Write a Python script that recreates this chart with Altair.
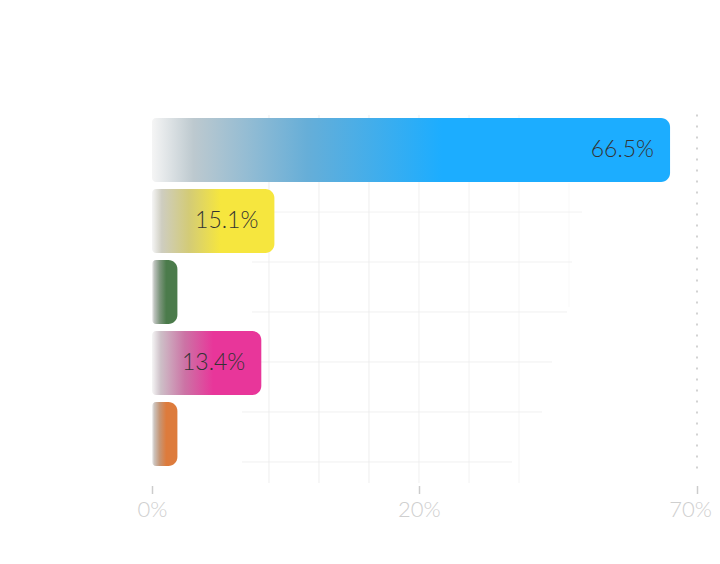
import altair as alt
import pandas as pd

# ---- data ----
names = ["Category A", "Category B", "Category C", "Category D", "Category E"]
values = [66.5, 15.1, 2.5, 13.4, 2.5]
colors = ["#1CADFF", "#F6E63E", "#4B7B4B", "#E8369A", "#DD7B3C"]
axis_ticks = [0, 20, 70]          # labels shown on the bottom axis
label_min = 10                    # bars below this value carry no label

# decorative background lattice (in lattice cells of the plot area)
grid_v_x = [2.34, 3.34, 4.34, 5.34, 6.34, 7.34, 8.34]
grid_v_y1 = [-0.27, -0.27, -0.27, -0.27, -0.27, -0.27, 3.25]
grid_v_y2 = [7.09, 7.09, 7.09, 7.09, 7.09, 7.09, 5.73]
grid_v_op = [0.9, 0.9, 0.9, 0.8, 0.7, 0.5, 0.3]
grid_h_y = [5.15, 4.15, 3.15, 2.15, 1.15, 0.15]
grid_h_x1 = [2.0, 2.0, 2.0, 2.0, 1.8, 1.8]
grid_h_x2 = [8.6, 8.4, 8.3, 8.0, 7.8, 7.2]
grid_h_op = [0.7, 0.75, 0.8, 0.8, 0.8, 0.8]

W, H = 545, 355
BAR_MIN = -0.8

df = pd.DataFrame({"name": names, "value": values, "color": colors})

xbar = alt.Scale(domain=[BAR_MIN, axis_ticks[-1]], zero=False, nice=False)
yband = alt.Scale(domain=names, paddingInner=0.1, paddingOuter=0.05)


def mix(c1, c2, t):
    a = [int(c1[i:i + 2], 16) for i in (1, 3, 5)]
    b = [int(c2[i:i + 2], 16) for i in (1, 3, 5)]
    return "#" + "".join(f"{round(x + (y - x) * t):02x}" for x, y in zip(a, b))


def grad(c):
    return alt.Gradient(
        gradient="linear", x1=0, x2=1, y1=0, y2=0,
        stops=[alt.GradientStop(offset=0, color="#f5f5f5"),
               alt.GradientStop(offset=0.08, color=mix("#cbcbcb", c, 0.08)),
               alt.GradientStop(offset=0.3, color=mix("#b0b0b0", c, 0.5)),
               alt.GradientStop(offset=0.56, color=c),
               alt.GradientStop(offset=1, color=c)])


bar_layers = []
for n, c in zip(names, colors):
    bar_layers.append(
        alt.Chart(df).transform_filter(alt.datum.name == n).mark_bar(
            fill=grad(c), cornerRadiusTopLeft=4, cornerRadiusBottomLeft=4,
            cornerRadiusTopRight=9, cornerRadiusBottomRight=9
        ).encode(
            x=alt.X("value:Q", scale=xbar, axis=None),
            x2=alt.X2Datum(BAR_MIN),
            y=alt.Y("name:N", scale=yband, axis=None),
        )
    )

text_layer = alt.Chart(df).transform_filter(
    alt.datum.value > label_min
).transform_calculate(
    lbl="format(datum.value, '.1f') + '%'"
).mark_text(
    align="right", baseline="middle", dx=-16, font="Lato", fontWeight=300,
    fontSize=23, color="#333333"
).encode(
    x=alt.X("value:Q", scale=xbar, axis=None),
    y=alt.Y("name:N", scale=yband, axis=None),
    text="lbl:N",
)

bars = alt.layer(*bar_layers, text_layer)

# background lattice
gv = pd.DataFrame({"x": grid_v_x, "y1": grid_v_y1, "y2": grid_v_y2, "op": grid_v_op})
gh = pd.DataFrame({"y": grid_h_y, "x1": grid_h_x1, "x2": grid_h_x2, "op": grid_h_op})
gx = alt.Scale(domain=[0, W / 50], nice=False, zero=False)
gy = alt.Scale(domain=[0, H / 50], nice=False, zero=False)
grid_v = alt.Chart(gv).mark_rule(color="#ececec", strokeWidth=1).encode(
    x=alt.X("x:Q", scale=gx, axis=None),
    y=alt.Y("y1:Q", scale=gy, axis=None), y2="y2:Q",
    opacity=alt.Opacity("op:Q", scale=None))
grid_h = alt.Chart(gh).mark_rule(color="#ececec", strokeWidth=1).encode(
    x=alt.X("x1:Q", scale=gx, axis=None), x2="x2:Q",
    y=alt.Y("y:Q", scale=gy, axis=None),
    opacity=alt.Opacity("op:Q", scale=None))
grid = alt.layer(grid_v, grid_h)

# bottom axis with dotted end line
axis_df = pd.DataFrame({"v": [axis_ticks[-1]]})
axis_layer = alt.Chart(axis_df).mark_rule(
    color="#c4c4c4", strokeDash=[2, 9], strokeWidth=1.5
).encode(
    x=alt.X("v:Q",
            scale=alt.Scale(type="pow", exponent=0.57,
                            domain=[axis_ticks[0], axis_ticks[-1]], nice=False),
            axis=alt.Axis(values=axis_ticks, labelExpr="datum.value + '%'",
                          title=None, domain=False, grid=False, offset=16,
                          tickSize=8, tickColor="#cccccc", tickWidth=1.5,
                          labelFont="Lato", labelFontWeight=300, labelFontSize=22,
                          labelColor="#cfcfcf", labelPadding=6,
                          labelOffset=alt.ConditionalAxisNumber(
                              condition={"test": f"datum.value == {axis_ticks[-1]}",
                                         "value": -7},
                              value=0),
                          labelFlush=False, labelOverlap=False)),
)

chart = alt.layer(grid, bars, axis_layer).resolve_scale(
    x="independent", y="independent"
).properties(
    width=W, height=H,
    autosize=alt.AutoSizeParams(type="none"),
    padding={"left": 144, "top": 106.5, "right": 15, "bottom": 70},
).configure_view(stroke=None)

chart.save("out.html", embed_options={"renderer": "svg", "actions": False})
